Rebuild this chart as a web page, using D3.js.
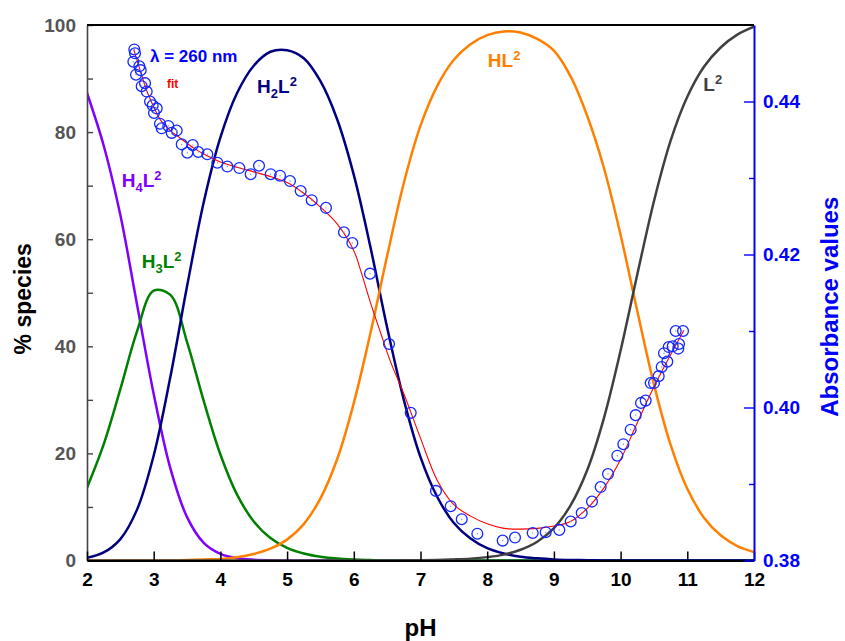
<!DOCTYPE html>
<html><head><meta charset="utf-8">
<script src="https://cdn.jsdelivr.net/npm/d3@7"></script>
<style>
body{margin:0;background:#fff;}
svg{display:block;font-family:"Liberation Sans",Arial,Helvetica,sans-serif;font-weight:bold;}
</style>
</head><body>
<svg id="chart" width="845" height="641"></svg>
<script>
// ---------------- data ----------------
const phGrid = [2.00,2.25,2.50,2.75,3.00,3.25,3.50,3.75,4.00,4.25,4.50,4.75,5.00,5.25,5.50,5.75,6.00,6.25,6.50,6.75,7.00,7.25,7.50,7.75,8.00,8.25,8.50,8.75,9.00,9.25,9.50,9.75,10.00,10.25,10.50,10.75,11.00,11.25,11.50,11.75,12.00];
const H4L = [87.3,77.5,64.5,47.8,31.1,17.2,8.1,3.3,1.25,0.43,0.15,0.05,0,0,0,0,0,0,0,0,0,0,0,0,0,0,0,0,0,0,0,0,0,0,0,0,0,0,0,0,0];
const H3L = [13.6,21.7,32.0,42.8,50.4,49.6,40.8,29.8,19.8,12.3,7.3,4.2,2.35,1.3,0.7,0.36,0.18,0.08,0,0,0,0,0,0,0,0,0,0,0,0,0,0,0,0,0,0,0,0,0,0,0];
const H2L = [0.5,1.5,4.0,9.5,19.6,34.3,51.2,66.9,79.0,87.3,92.4,95.0,95.3,93.8,89.5,82.4,72.0,58.5,43.5,30.0,19.3,11.9,7.0,4.1,2.3,1.3,0.7,0.4,0.2,0.1,0.06,0,0,0,0,0,0,0,0,0,0];
const HL  = [0,0,0,0,0,0,0.1,0.2,0.3,0.6,1.2,2.2,3.9,6.8,11.6,18.9,29.4,42.5,56.9,70.5,81.2,88.6,93.5,96.4,98.1,98.8,98.6,97.4,95.2,90.4,83.0,73.3,60.8,46.6,32.9,21.6,13.4,8.0,4.7,2.7,1.6];
const L   = [0,0,0,0,0,0,0,0,0,0,0,0,0,0,0,0,0,0,0.01,0.03,0.05,0.1,0.2,0.35,0.63,1.1,2.0,3.5,6.05,10.3,16.9,26.6,39.2,53.4,67.1,78.4,86.6,92.2,95.8,98.2,99.7];

// measured absorbance at 260 nm
const absPH = [2.709,2.720,2.695,2.785,2.805,2.735,2.870,2.820,2.895,2.945,2.985,3.045,3.004,3.094,3.120,3.219,3.270,3.345,3.420,3.504,3.585,3.669,3.804,3.954,4.104,4.284,4.454,4.579,4.754,4.894,5.043,5.204,5.369,5.583,5.853,5.978,6.243,6.528,6.853,7.232,7.453,7.618,7.852,8.232,8.417,8.682,8.877,9.081,9.252,9.417,9.571,9.701,9.811,9.951,10.041,10.151,10.226,10.306,10.376,10.451,10.501,10.571,10.616,10.651,10.700,10.721,10.781,10.865,10.876,10.826,10.936];
const absVal = [0.4468,0.4463,0.4452,0.4446,0.4441,0.4435,0.4424,0.4420,0.4413,0.4400,0.4395,0.4391,0.4385,0.4371,0.4365,0.4368,0.4359,0.4362,0.4344,0.4333,0.4343,0.4334,0.4331,0.4320,0.4315,0.4313,0.4305,0.4316,0.4305,0.4303,0.4296,0.4283,0.4271,0.4261,0.4229,0.4215,0.4175,0.4083,0.3993,0.3891,0.3871,0.3854,0.3835,0.3826,0.3830,0.3836,0.3837,0.3840,0.3851,0.3862,0.3877,0.3896,0.3913,0.3937,0.3952,0.3971,0.3990,0.4006,0.4009,0.4032,0.4032,0.4041,0.4053,0.4071,0.4060,0.4079,0.4080,0.4077,0.4083,0.4100,0.4100];

// fitted absorbance curve
const fitPH = [2.70,2.80,2.90,3.00,3.10,3.25,3.40,3.60,3.80,4.00,4.25,4.50,4.75,5.00,5.25,5.50,5.75,6.00,6.10,6.25,6.40,6.55,6.75,7.00,7.25,7.50,7.75,8.00,8.25,8.50,8.75,9.00,9.25,9.50,9.75,10.00,10.25,10.50,10.75,10.95];
const fitVal = [0.4468,0.4440,0.4413,0.4393,0.4376,0.4362,0.4352,0.4339,0.4329,0.4321,0.4314,0.4308,0.4302,0.4294,0.4280,0.4262,0.4240,0.4205,0.4180,0.4137,0.4098,0.4060,0.4018,0.3960,0.3905,0.3873,0.3858,0.3848,0.3842,0.3841,0.3842,0.3845,0.3851,0.3868,0.3895,0.3932,0.3980,0.4027,0.4069,0.4101];

// axis ticks
const xTicks = [2,3,4,5,6,7,8,9,10,11,12];
const yLeftTicks = [0,10,20,30,40,50,60,70,80,90,100];
const yLeftLabels = [0,20,40,60,80,100];
const yRightMajor = [0.38,0.40,0.42,0.44];
const yRightMinor = [0.39,0.41,0.43];

// labels
const speciesLabelParts = [
  [["H",""],["4","sub"],["L",""],["2","sup"]],
  [["H",""],["3","sub"],["L",""],["2","sup"]],
  [["H",""],["2","sub"],["L",""],["2","sup"]],
  [["HL",""],["2","sup"]],
  [["L",""],["2","sup"]]
];
const xTitle = "pH", yLeftTitle = "% species", yRightTitle = "Absorbance values";
const wavelengthLabel = "\u03BB = 260 nm", fitLabel = "fit";

// ---------------- drawing ----------------
const svg = d3.select("#chart");
const P = {l:87, r:754, t:25, b:560.5};
const x = d3.scaleLinear().domain([2,12]).range([P.l,P.r]);
const yL = d3.scaleLinear().domain([0,100]).range([P.b,P.t]);
const yR = d3.scaleLinear().domain([0.38,0.45]).range([P.b,P.t]);

svg.append("defs").append("clipPath").attr("id","clip")
  .append("rect").attr("x",P.l).attr("y",P.t-2).attr("width",P.r-P.l).attr("height",P.b-P.t+2);

const colors = {H4L:"#8000ff",H3L:"#008000",H2L:"#000080",HL:"#ff8000",L:"#404040"};
const series = [
  {key:"H4L", vals:H4L},{key:"H3L", vals:H3L},{key:"H2L", vals:H2L},{key:"HL", vals:HL},{key:"L", vals:L}
];
const line = d3.line().x(d=>x(d[0])).y(d=>yL(d[1])).curve(d3.curveCatmullRom.alpha(0.5));
const gCurves = svg.append("g").attr("clip-path","url(#clip)");
series.forEach(s=>{
  gCurves.append("path")
    .datum(phGrid.map((p,i)=>[p,s.vals[i]]))
    .attr("fill","none").attr("stroke",colors[s.key]).attr("stroke-width",2.5)
    .attr("d",line);
});

// fit line
const fitLine = d3.line().x(d=>x(d[0])).y(d=>yR(d[1])).curve(d3.curveCatmullRom.alpha(0.5));
gCurves.append("path").datum(fitPH.map((p,i)=>[p,fitVal[i]]))
  .attr("fill","none").attr("stroke","#ff0000").attr("stroke-width",1.1).attr("d",fitLine);

// data points
const pts = absPH.map((p,i)=>[p,absVal[i]]);
const gPts = svg.append("g");
gPts.selectAll("circle.pt").data(pts).join("circle").attr("class","pt")
  .attr("cx",d=>x(d[0])).attr("cy",d=>yR(d[1])).attr("r",5.4)
  .attr("fill","none").attr("stroke","#1428ff").attr("stroke-width",1.3);
gPts.selectAll("circle.dot").data(pts).join("circle").attr("class","dot")
  .attr("cx",d=>x(d[0])).attr("cy",d=>yR(d[1])).attr("r",0.7)
  .attr("fill","#7f8cff");

// axes
const fs = "19px";
const gLeft = svg.append("g").attr("transform",`translate(${P.l},0)`)
  .call(d3.axisLeft(yL).tickValues(yLeftTicks).tickSizeInner(-6).tickSizeOuter(0).tickPadding(11)
    .tickFormat(d=>yLeftLabels.includes(d)?String(d):""));
gLeft.select(".domain").attr("stroke","#444").attr("stroke-width",1.6);
gLeft.selectAll(".tick line").attr("stroke","#444").attr("stroke-width",1.4);
gLeft.selectAll("text").attr("fill","#555").style("font-size",fs).style("font-family","inherit").style("font-weight","bold");

const gBottom = svg.append("g").attr("transform",`translate(0,${P.b})`)
  .call(d3.axisBottom(x).tickValues(xTicks).tickSizeInner(-9).tickSizeOuter(0).tickPadding(12).tickFormat(d3.format("d")));
gBottom.select(".domain").attr("stroke","#000").attr("stroke-width",2);
gBottom.selectAll(".tick line").attr("stroke","#000").attr("stroke-width",1.5);
gBottom.selectAll("text").attr("fill","#000").style("font-size",fs).style("font-family","inherit").style("font-weight","bold");

const gRightMinor = svg.append("g").attr("transform",`translate(${P.r},0)`)
  .call(d3.axisRight(yR).tickValues(yRightMinor).tickSizeInner(-5).tickSizeOuter(0).tickFormat(""));
gRightMinor.select(".domain").remove();
gRightMinor.selectAll(".tick line").attr("stroke","#0000ff").attr("stroke-width",1.4);
const gRight = svg.append("g").attr("transform",`translate(${P.r},0)`)
  .call(d3.axisRight(yR).tickValues(yRightMajor).tickSizeInner(-10).tickSizeOuter(0).tickPadding(9).tickFormat(d3.format(".2f")));
gRight.select(".domain").attr("stroke","#0000ff").attr("stroke-width",2);
gRight.selectAll(".tick line").attr("stroke","#0000ff").attr("stroke-width",1.4);
gRight.selectAll("text").attr("fill","#0000ff").style("font-size",fs).style("font-family","inherit").style("font-weight","bold");

// top frame line
svg.append("line").attr("x1",P.l).attr("x2",P.r).attr("y1",P.t).attr("y2",P.t)
  .attr("stroke","#000").attr("stroke-width",2);

// axis titles
svg.append("text").attr("transform",`translate(31,${(P.t+P.b)/2+6}) rotate(-90)`)
  .attr("text-anchor","middle").style("font-size","23px").attr("fill","#000").text(yLeftTitle);
svg.append("text").attr("x",(P.l+P.r)/2).attr("y",636)
  .attr("text-anchor","middle").style("font-size","24px").attr("fill","#000").text(xTitle);
svg.append("text").attr("transform",`translate(838,${(P.t+P.b)/2+14}) rotate(-90)`)
  .attr("text-anchor","middle").style("font-size","24px").attr("fill","#0000ff").text(yRightTitle);

// species labels
function chemLabel(px, py, parts, color){
  const t = svg.append("text").attr("x",px).attr("y",py).attr("fill",color).style("font-size","19px");
  let cur = 0;
  parts.forEach(([s,type])=>{
    const target = type==="sub"?5:(type==="sup"?-7:0);
    t.append("tspan").attr("dy",target-cur).style("font-size",type?"13px":"19px").text(s);
    cur = target;
  });
}
const labelSpots = [[2.52,69.8],[2.82,54.6],[4.55,87.3],[8.01,92.2],[11.24,87.6]];
const labelColors = [colors.H4L,colors.H3L,colors.H2L,colors.HL,colors.L];
speciesLabelParts.forEach((parts,i)=>{
  chemLabel(x(labelSpots[i][0]), yL(labelSpots[i][1]), parts, labelColors[i]);
});

svg.append("text").attr("x",x(2.945)).attr("y",yL(93.1)).attr("fill","#0000ff")
  .style("font-size","17px").text(wavelengthLabel);
svg.append("text").attr("x",x(3.2)).attr("y",yL(88.2)).attr("fill","#ff0000")
  .style("font-size","12px").text(fitLabel);
</script>
</body></html>
